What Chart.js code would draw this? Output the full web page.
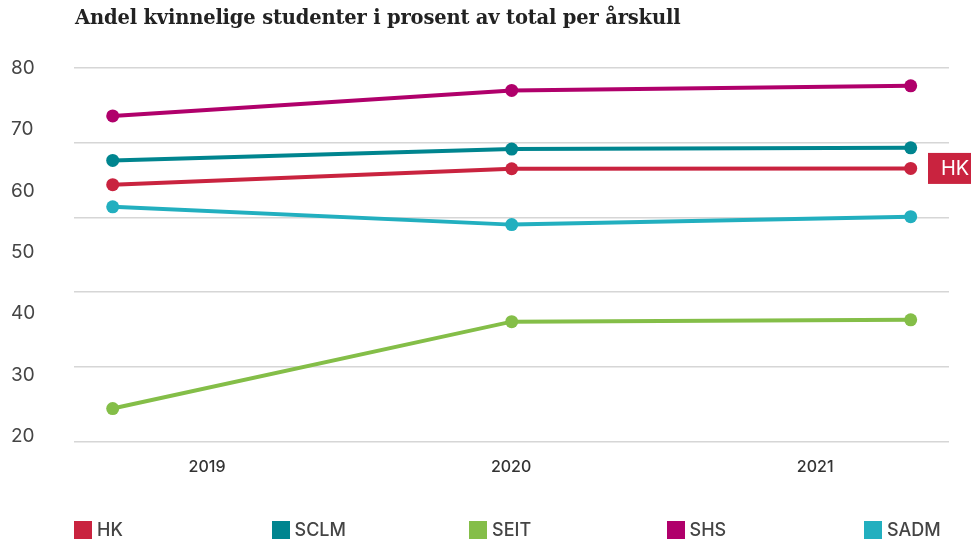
<!DOCTYPE html>
<html>
<head>
<meta charset="utf-8">
<script src="https://cdn.jsdelivr.net/npm/chart.js@4.4.1/dist/chart.umd.min.js"></script>
<style>
  html, body { margin: 0; padding: 0; background: #fff; }
  #wrap { position: relative; width: 971px; height: 541px; overflow: hidden; }
  #c { position: absolute; left: 0; top: 0; }
  #title { position: absolute; left: 75px; top: 6px; font-family: "DejaVu Serif", serif; font-weight: bold; font-size: 19.5px; color: #222; white-space: nowrap; letter-spacing: -0.18px; }
  #legend { position: absolute; left: 0; top: 518px; width: 971px; height: 23px; }
  .li { position: absolute; top: 2px; height: 20px; display: flex; align-items: flex-end; font-family: Inter, "Noto Sans", sans-serif; font-size: 18px; font-weight: 500; color: #444; white-space: nowrap; }
  .sw { display: inline-block; width: 18px; height: 18px; margin-right: 5px; margin-bottom: 1px; }
</style>
</head>
<body>
<div id="wrap">
  <canvas id="c" width="971" height="541"></canvas>
  <div id="title">Andel kvinnelige studenter i prosent av total per årskull</div>
  <div id="legend"></div>
</div>
<script>
const years = [2019, 2020, 2021];
const seriesNames = ['HK', 'SCLM', 'SEIT', 'SHS', 'SADM'];
const hk   = [61.0, 63.6, 63.65];
const sclm = [64.95, 66.8, 67.0];
const seit = [24.55, 38.7, 39.0];
const shs  = [72.2, 76.35, 77.1];
const sadm = [57.4, 54.5, 55.8];
const yTicks = [20, 30, 40, 50, 60, 70, 80];
const colors = ['#c9233f', '#00858f', '#84be48', '#b0006b', '#22afbf'];

const seriesValues = [hk, sclm, seit, shs, sadm];

const datasets = seriesNames.map((name, i) => ({
  label: name,
  data: years.map((yr, j) => ({ x: yr, y: seriesValues[i][j] })),
  borderColor: colors[i],
  backgroundColor: colors[i],
  pointBackgroundColor: colors[i],
  pointBorderWidth: 0,
  pointRadius: 6.5,
  pointHoverRadius: 6.5,
  borderWidth: 4,
  tension: 0,
  clip: false,
  xAxisID: 'x',
  yAxisID: 'y'
}));

const endLabelPlugin = {
  id: 'endLabel',
  afterDatasetsDraw(chart) {
    const meta = chart.getDatasetMeta(0);
    const pt = meta.data[meta.data.length - 1];
    const ctx = chart.ctx;
    ctx.save();
    ctx.fillStyle = colors[0];
    ctx.fillRect(928, pt.y - 15.5, 50, 31);
    ctx.fillStyle = '#ffffff';
    ctx.font = '20px Inter, "Noto Sans", sans-serif';
    ctx.textBaseline = 'middle';
    ctx.textAlign = 'left';
    ctx.fillText(seriesNames[0], 941, pt.y + 1);
    ctx.restore();
  }
};

new Chart(document.getElementById('c'), {
  type: 'line',
  data: { datasets },
  plugins: [endLabelPlugin],
  options: {
    responsive: false,
    animation: false,
    events: [],
    layout: { padding: { top: 68, left: 11, right: 22, bottom: 0 } },
    plugins: { legend: { display: false }, tooltip: { enabled: false }, title: { display: false } },
    scales: {
      x: {
        type: 'linear', display: false, min: 2018.903, max: 2021.096
      },
      xLab: {
        type: 'linear', position: 'bottom', min: 2018.5625, max: 2021.44,
        afterBuildTicks(s) { s.ticks = years.map(v => ({ value: v })); },
        afterFit(s) { s.height = 99.5; },
        grid: { display: false, drawTicks: false },
        border: { display: false },
        ticks: {
          padding: 16,
          color: '#333',
          font: { family: 'Inter, "Noto Sans", sans-serif', size: 16, weight: 500 },
          callback: v => String(v)
        }
      },
      y: {
        type: 'linear', position: 'left', min: 19.19, max: 80,
        afterBuildTicks(s) { s.ticks = yTicks.map(v => ({ value: v })); },
        afterFit(s) { s.width = 63; },
        grid: { display: false, drawTicks: false },
        border: { display: false },
        ticks: {
          crossAlign: 'far',
          color: '#454545',
          font: { family: 'Inter, "Noto Sans", sans-serif', size: 19 },
          callback: v => String(v)
        }
      },
      y2: {
        type: 'linear', position: 'right', min: 0, max: 5,
        ticks: { display: false, stepSize: 1 },
        afterFit(s) { s.width = 0; },
        grid: { color: '#d6d6d6', lineWidth: 1.5, drawTicks: false },
        border: { display: false }
      }
    }
  }
});

const legend = document.getElementById('legend');
seriesNames.forEach((name, i) => {
  const item = document.createElement('div');
  item.className = 'li';
  item.style.left = (74 + i * 197.5) + 'px';
  const sw = document.createElement('span');
  sw.className = 'sw';
  sw.style.background = colors[i];
  item.appendChild(sw);
  item.appendChild(document.createTextNode(name));
  legend.appendChild(item);
});
</script>
</body>
</html>
